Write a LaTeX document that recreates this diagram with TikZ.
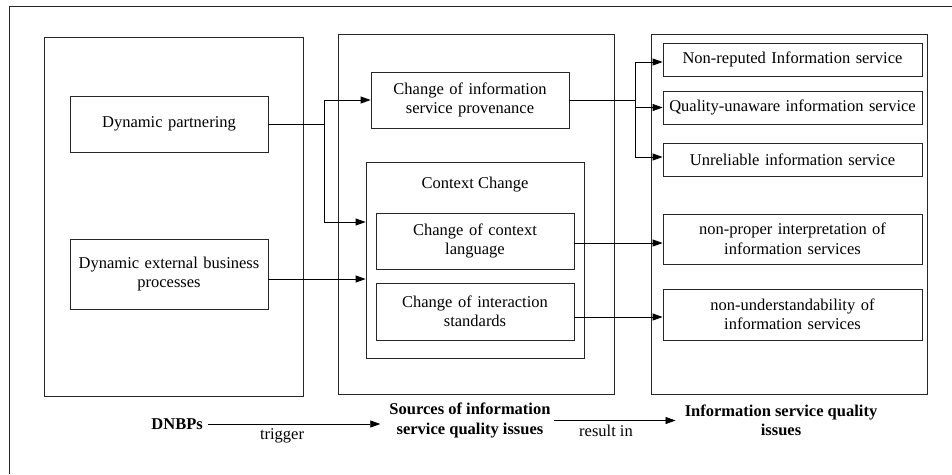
\documentclass[tikz,border=0pt]{standalone}
\usepackage{fontspec}
\setmainfont{Liberation Serif}
\usetikzlibrary{arrows.meta,calc}
\begin{document}
\begin{tikzpicture}[x=1pt,y=-1pt,
  every node/.style={font=\fontsize{16.5}{19.5}\selectfont, align=center, inner sep=0pt},
  panel/.style={draw=black!85, line width=0.8pt, minimum width=#1},
  box/.style={draw=black!85, line width=0.8pt, text width=190pt},
  conn/.style={draw=black, line width=0.8pt},
  arr/.style={conn, -{Triangle[length=10pt,width=7pt]}},
  lbl/.style={font=\fontsize{16.5}{19.5}\selectfont\bfseries}
]
\useasboundingbox (0,0) rectangle (952,474);

% open outer frame (top and left edges only)
\draw[black!85, line width=0.8pt] (952,6) -- (9,6) -- (9,474);

% the three panels
\node[panel=259pt, minimum height=359pt] (lp) at (173.5,216.5) {};
\node[panel=276pt, minimum height=360pt] (mp) at (476,214) {};
\node[panel=276pt, minimum height=360pt] (rp) at (789,214) {};

% DNBPs
\node[box, minimum width=198pt, minimum height=56pt] (dp) at (169,124) {Dynamic partnering};
\node[box, minimum width=198pt, minimum height=70pt] (debp) at (169,274) {Dynamic external business\\processes};

% sources
\node[box, minimum width=198pt, minimum height=56pt] (prov) at (470,100) {Change of information\\service provenance};
\node[panel=218pt, minimum height=196pt] (cc) at (475,260) {};
\node (cct) at (475,185) {Context Change};
\node[box, minimum width=198pt, minimum height=56pt] (ccl) at (475,241) {Change of context\\language};
\node[box, minimum width=198pt, minimum height=57pt] (cis) at (475,311.5) {Change of interaction\\standards};

% quality issues
\node[box, text width=255pt, minimum width=259pt, minimum height=33pt] (r1) at (792.5,59.5) {Non-reputed Information service};
\node[box, text width=255pt, minimum width=259pt, minimum height=33pt] (r2) at (792.5,107.5) {Quality-unaware information service};
\node[box, text width=255pt, minimum width=259pt, minimum height=33pt] (r3) at (792.5,159.5) {Unreliable information service};
\node[box, text width=255pt, minimum width=259pt, minimum height=50pt] (r4) at (792.5,239) {non-proper interpretation of\\information services};
\node[box, text width=255pt, minimum width=259pt, minimum height=51pt] (r5) at (792.5,314.5) {non-understandability of\\information services};

% branching from dynamic partnering
\coordinate (j1) at (324,124);
\draw[conn] (dp.east) -- (j1);
\draw[arr] (j1) |- (prov.west);
\draw[arr] (j1) |- ([yshift=38pt]cc.west);
\draw[arr] ([yshift=-5pt]debp.east) -- ([yshift=-5pt]debp.east -| cc.west);

% branching from provenance change
\coordinate (j2) at (635,100);
\draw[conn] (prov.east) -- (j2);
\draw[arr] (j2) |- ([yshift=-2.5pt]r1.west);
\draw[arr] (j2) |- (r2.west);
\draw[arr] (j2) |- ([yshift=2.5pt]r3.west);
\draw[arr] ([yshift=-2pt]ccl.east) -- ([yshift=-2pt]ccl.east -| r4.west);
\draw[arr] ([yshift=-5.5pt]cis.east) -- ([yshift=-5.5pt]cis.east -| r5.west);

% bottom legend
\node[lbl, anchor=east] (dn) at (203,424) {DNBPs};
\node[lbl] (src) at (470,420.5) {Sources of information\\service quality issues};
\node[lbl] (isq) at (781,420.5) {Information service quality\\issues};
\draw[arr] ([xshift=5pt]dn.east) -- ([xshift=-9pt]dn.east -| src.west);
\node (trg) at (282,436) {trigger};
\draw[arr] ([xshift=3pt]src.east) -- ([xshift=-9pt]src.east -| isq.west);
\node (rin) at (606,431) {result in};
\end{tikzpicture}
\end{document}
